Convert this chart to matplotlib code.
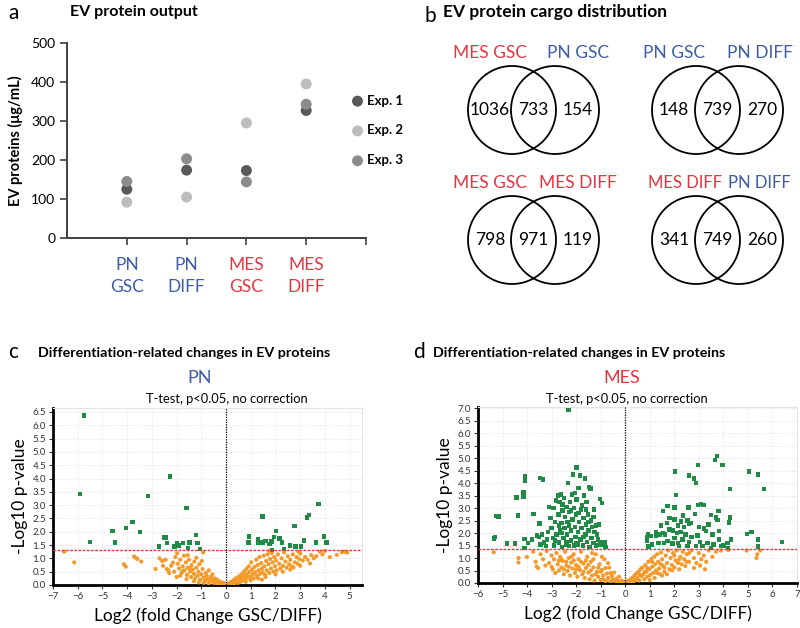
import numpy as np
import matplotlib
matplotlib.use("Agg")
import matplotlib.pyplot as plt
from matplotlib.patches import Circle

plt.rcParams['font.family'] = ['Lato', 'DejaVu Sans']

BLUE = "#3f5ca8"
RED = "#e8343f"
GREEN = "#218a47"
ORANGE = "#f39a2b"

# ── panel a data ──────────────────────────────────────────────────────────────
categories = ["PN\nGSC", "PN\nDIFF", "MES\nGSC", "MES\nDIFF"]
category_colors = [BLUE, BLUE, RED, RED]
exp_labels = ["Exp. 1", "Exp. 2", "Exp. 3"]
exp_colors = ["#595959", "#bdbdbd", "#8c8c8c"]
exp1 = [125, 174, 173, 327]
exp2 = [92, 105, 295, 395]
exp3 = [145, 203, 144, 343]

# ── panel b data ──────────────────────────────────────────────────────────────
venn_names = [("MES GSC", "PN GSC"), ("PN GSC", "PN DIFF"),
              ("MES GSC", "MES DIFF"), ("MES DIFF", "PN DIFF")]
venn_name_colors = [(RED, BLUE), (BLUE, BLUE), (RED, RED), (RED, BLUE)]
venn_counts = [(1036, 733, 154), (148, 739, 270), (798, 971, 119), (341, 749, 260)]

# ── panel c data (PN volcano) ────────────────────────────────────────────────
pn_sig = [(-5.74, 6.37), (-5.91, 3.41), (-5.50, 1.62), (-4.60, 2.03), (-4.49, 1.60),
          (-4.05, 2.14), (-3.79, 2.37), (-3.48, 2.00), (-3.16, 3.35), (-2.72, 1.44),
          (-2.51, 1.78), (-2.42, 1.78), (-2.39, 1.57), (-2.27, 4.07), (-2.08, 1.44),
          (-1.98, 1.57), (-1.91, 1.48), (-1.73, 1.57), (-1.60, 2.89), (-1.55, 1.38),
          (-1.48, 1.60), (-1.22, 1.88), (-1.16, 1.57), (-1.05, 1.35),
          (0.94, 1.82), (0.91, 1.60), (1.29, 1.73), (1.32, 1.60), (1.48, 1.60),
          (1.59, 1.65), (1.48, 2.57), (1.76, 1.54), (1.84, 1.64), (1.95, 1.80),
          (2.03, 2.04), (2.16, 1.75), (2.26, 1.60), (2.35, 1.35), (2.59, 1.48),
          (2.77, 2.22), (2.81, 1.44), (3.04, 1.44), (3.16, 1.67), (3.27, 2.54),
          (3.36, 2.63), (3.64, 1.60), (3.74, 3.05), (3.97, 1.82), (4.07, 1.60),
          (1.85, 1.32)]
pn_ns = [(-6.55, 1.25), (-6.14, 0.85), (-4.13, 0.78), (-4.06, 0.69), (-3.72, 1.07),
         (-3.65, 1.02), (-3.59, 0.98), (-3.43, 0.88), (-2.85, 0.60), (-2.69, 1.00),
         (-2.58, 0.90), (-2.45, 0.95), (-2.34, 0.56), (-2.22, 0.72), (-2.15, 0.84),
         (-2.05, 1.05), (-1.98, 1.19), (-1.95, 0.80), (-1.90, 0.62), (-1.85, 0.95),
         (-1.80, 0.45), (-1.75, 0.70), (-1.70, 1.10), (-1.68, 0.55), (-1.62, 0.85),
         (-1.58, 0.38), (-1.55, 0.65), (-1.50, 0.95), (-1.46, 0.50), (-1.42, 0.30),
         (-1.40, 0.75), (-1.35, 0.58), (-1.30, 0.42), (-1.28, 0.88), (-1.25, 0.25),
         (-1.20, 0.65), (-1.15, 0.35), (-1.12, 0.50), (-1.08, 0.78), (-1.05, 0.20),
         (-1.00, 0.40), (-0.95, 0.60), (-0.92, 1.22), (-0.90, 0.28), (-0.85, 0.15),
         (-0.82, 0.45), (-0.78, 0.35), (-0.75, 0.22), (-0.70, 0.55), (-0.66, 0.12),
         (-0.62, 0.30), (-0.58, 0.18), (-0.55, 0.40), (-0.50, 0.08), (-0.46, 0.25),
         (-0.42, 0.14), (-0.38, 0.05), (-0.35, 0.20), (-0.30, 0.10), (-0.26, 0.03),
         (-0.22, 0.12), (-0.18, 0.06), (-0.14, 0.02), (-0.10, 0.08), (-0.06, 0.03),
         (-0.03, 0.01), (-1.60, 0.22), (-1.85, 0.35), (-2.10, 0.50), (-2.40, 0.60),
         (-2.00, 0.30), (-1.30, 0.15), (-1.10, 0.10), (-0.90, 0.08), (-0.70, 0.05),
         (-0.60, 0.25), (-1.45, 0.62), (-1.75, 0.52), (-2.30, 0.45), (-2.55, 0.72),
         (-1.20, 1.02), (-0.98, 0.90), (-1.55, 1.12),
         (0.03, 0.02), (0.07, 0.05), (0.11, 0.01), (0.15, 0.08), (0.18, 0.03),
         (0.22, 0.12), (0.26, 0.06), (0.30, 0.18), (0.33, 0.04), (0.37, 0.10),
         (0.40, 0.25), (0.44, 0.15), (0.48, 0.08), (0.52, 0.32), (0.55, 0.20),
         (0.58, 0.12), (0.62, 0.40), (0.65, 0.28), (0.68, 0.18), (0.72, 0.50),
         (0.75, 0.35), (0.78, 0.22), (0.82, 0.60), (0.85, 0.42), (0.88, 0.28),
         (0.92, 0.70), (0.95, 0.50), (0.98, 0.32), (1.02, 0.85), (1.05, 0.58),
         (1.08, 0.40), (1.12, 0.25), (1.15, 0.68), (1.18, 0.48), (1.22, 0.95),
         (1.25, 0.35), (1.28, 0.75), (1.32, 0.55), (1.35, 1.05), (1.38, 0.42),
         (1.42, 0.82), (1.45, 0.62), (1.48, 0.48), (1.52, 1.10), (1.55, 0.70),
         (1.58, 0.38), (1.62, 0.90), (1.65, 0.55), (1.68, 1.15), (1.72, 0.78),
         (1.75, 0.45), (1.78, 0.98), (1.82, 0.62), (1.85, 1.20), (1.88, 0.85),
         (1.92, 0.50), (1.95, 1.05), (1.98, 0.70), (2.02, 0.92), (2.05, 0.55),
         (2.10, 1.15), (2.15, 0.80), (2.20, 0.62), (2.25, 1.00), (2.30, 0.72),
         (2.35, 1.22), (2.40, 0.88), (2.45, 0.65), (2.50, 1.08), (2.55, 0.78),
         (2.60, 0.95), (2.65, 0.70), (2.70, 1.15), (2.78, 0.85), (2.85, 1.05),
         (2.90, 0.80), (2.95, 0.98), (3.00, 1.18), (3.10, 0.92), (3.20, 1.05),
         (3.30, 0.95), (3.40, 0.81), (3.45, 1.12), (3.55, 1.00), (3.65, 1.08),
         (3.80, 1.25), (3.90, 1.15), (4.00, 1.28), (4.20, 1.05), (4.48, 1.13),
         (4.68, 1.23), (4.81, 1.25), (4.90, 1.22), (2.93, 1.25), (1.75, 1.28),
         (1.30, 0.25), (1.00, 0.18), (0.80, 0.12), (1.60, 0.30), (2.00, 0.40),
         (2.30, 0.50), (1.45, 0.20), (2.60, 0.58), (3.00, 0.72), (2.73, 0.66)]

# ── panel d data (MES volcano) ───────────────────────────────────────────────
mes_sig = [(-2.31, 6.93), (-1.99, 4.62), (-4.08, 4.28), (-4.08, 4.11), (-3.47, 4.20),
           (-3.36, 4.15), (-4.43, 3.42), (-4.15, 3.62), (-4.15, 3.46), (-5.27, 2.68),
           (-5.16, 2.66), (-4.38, 2.70), (-3.74, 2.77), (-5.36, 1.78), (-5.30, 1.85),
           (-4.81, 1.58), (-4.49, 1.59), (-4.11, 1.77), (-4.11, 1.41), (-3.95, 1.61),
           (-3.81, 1.74), (-3.50, 2.38), (-3.60, 1.90), (-3.52, 1.85), (-3.40, 1.95),
           (-3.45, 1.55), (-3.30, 1.62), (-3.22, 1.48), (-3.15, 2.05), (-3.10, 3.05),
           (-3.05, 2.60), (-3.00, 2.20), (-2.95, 1.80), (-2.92, 3.00), (-2.90, 1.50),
           (-2.85, 2.45), (-2.82, 3.30), (-2.80, 1.95), (-2.75, 3.50), (-2.72, 2.75),
           (-2.70, 1.62), (-2.68, 3.25), (-2.65, 2.10), (-2.62, 3.55), (-2.60, 2.40),
           (-2.58, 1.45), (-2.55, 2.90), (-2.52, 1.80), (-2.50, 3.40), (-2.48, 2.20),
           (-2.45, 2.65), (-2.42, 1.55), (-2.40, 3.05), (-2.38, 1.95), (-2.35, 2.45),
           (-2.32, 4.00), (-2.30, 1.48), (-2.28, 2.85), (-2.25, 3.25), (-2.22, 2.10),
           (-2.20, 1.70), (-2.18, 3.55), (-2.15, 2.55), (-2.12, 4.35), (-2.10, 1.50),
           (-2.08, 3.00), (-2.05, 2.25), (-2.02, 1.85), (-2.00, 2.75), (-1.98, 3.35),
           (-1.95, 1.55), (-1.92, 2.05), (-1.90, 3.80), (-1.88, 2.45), (-1.85, 4.31),
           (-1.82, 1.75), (-1.80, 2.95), (-1.78, 2.20), (-1.75, 3.10), (-1.72, 1.50),
           (-1.70, 2.60), (-1.68, 3.50), (-1.65, 4.18), (-1.62, 1.95), (-1.60, 2.35),
           (-1.58, 3.25), (-1.55, 1.65), (-1.52, 2.75), (-1.50, 2.10), (-1.48, 3.85),
           (-1.45, 1.45), (-1.42, 3.78), (-1.40, 2.50), (-1.38, 1.80), (-1.35, 2.25),
           (-1.30, 1.60), (-1.28, 2.95), (-1.25, 2.05), (-1.20, 1.50), (-1.18, 2.30),
           (-1.12, 1.75), (-1.08, 2.35), (-1.03, 3.36), (-1.00, 1.55), (-0.95, 3.20),
           (-0.92, 1.65), (-0.85, 1.62), (-0.80, 1.45), (-2.60, 2.00), (-2.30, 2.30),
           (-2.00, 1.60), (-2.40, 1.65), (-1.90, 2.80), (-2.70, 2.30), (-2.20, 2.90),
           (-1.70, 1.85), (-1.50, 2.45), (-2.85, 1.70), (-3.20, 1.75), (-2.55, 3.15),
           (-2.05, 3.60), (-1.60, 2.95), (-1.30, 2.65), (-1.15, 1.95),
           (3.73, 5.08), (3.66, 4.92), (2.04, 4.47), (2.97, 4.72), (3.96, 4.72),
           (5.04, 4.47), (5.41, 4.34), (2.61, 4.31), (2.81, 4.18), (2.88, 4.00),
           (4.26, 3.76), (5.65, 3.77), (2.07, 3.53), (2.97, 3.12), (3.08, 3.16),
           (3.19, 3.12), (1.73, 3.08), (2.00, 3.03), (2.58, 3.03), (1.53, 2.88),
           (2.84, 2.77), (3.49, 2.73), (3.80, 2.89), (3.69, 2.62), (3.76, 2.53),
           (4.26, 2.62), (4.23, 2.42), (1.80, 2.60), (2.00, 2.55), (2.27, 2.47),
           (1.46, 2.31), (2.54, 2.50), (2.61, 2.36), (2.68, 2.40), (2.40, 2.25),
           (3.22, 2.18), (3.28, 2.08), (0.92, 1.95), (1.05, 1.88), (0.89, 1.84),
           (1.26, 1.88), (1.39, 1.95), (1.53, 2.01), (1.62, 1.95), (4.95, 1.97),
           (5.15, 2.05), (6.39, 1.64), (5.41, 1.74), (5.41, 1.46), (0.95, 1.46),
           (1.59, 1.61), (1.73, 1.68), (1.93, 1.58), (2.14, 1.61), (2.34, 1.74),
           (2.20, 1.47), (2.54, 1.47), (2.88, 1.47), (3.15, 1.47), (3.49, 1.40),
           (3.90, 1.47), (4.17, 1.61), (4.31, 1.74), (3.82, 1.74), (3.55, 1.95),
           (3.82, 2.08), (1.80, 2.15), (1.95, 2.10), (2.10, 2.00), (2.45, 1.95),
           (2.70, 1.85), (2.95, 1.90), (3.05, 1.65), (1.35, 1.60), (1.10, 1.55),
           (2.00, 1.80), (2.25, 2.05), (2.60, 1.65), (3.35, 1.60), (3.60, 1.55),
           (4.00, 1.50), (4.20, 1.40), (1.70, 2.40), (2.35, 2.70), (2.15, 2.30),
           (3.00, 2.25), (3.40, 2.35), (1.25, 2.05), (0.88, 1.70)]
mes_ns = [(-5.36, 1.23), (-4.35, 1.00), (-4.35, 0.82), (-4.01, 1.04), (-3.75, 1.25),
          (-3.65, 0.85), (-3.61, 0.66), (-3.55, 0.60), (-3.45, 1.15), (-3.35, 0.95),
          (-3.25, 0.70), (-3.20, 1.28), (-3.10, 0.80), (-3.00, 1.10), (-2.95, 0.55),
          (-2.90, 0.95), (-2.85, 0.40), (-2.80, 1.20), (-2.75, 0.75), (-2.70, 0.50),
          (-2.65, 1.05), (-2.60, 0.62), (-2.55, 0.88), (-2.50, 0.35), (-2.45, 1.25),
          (-2.40, 0.70), (-2.35, 0.48), (-2.30, 1.00), (-2.25, 0.30), (-2.20, 0.82),
          (-2.15, 0.58), (-2.10, 1.15), (-2.05, 0.40), (-2.00, 0.72), (-1.95, 0.25),
          (-1.90, 0.95), (-1.85, 0.52), (-1.80, 1.25), (-1.75, 0.35), (-1.70, 0.78),
          (-1.65, 0.20), (-1.60, 0.60), (-1.55, 1.05), (-1.50, 0.42), (-1.45, 0.15),
          (-1.40, 0.85), (-1.35, 0.30), (-1.30, 0.62), (-1.25, 0.10), (-1.20, 1.15),
          (-1.15, 0.45), (-1.10, 0.25), (-1.05, 0.75), (-1.00, 0.12), (-0.95, 0.52),
          (-0.90, 0.30), (-0.85, 0.95), (-0.80, 0.08), (-0.75, 0.38), (-0.70, 0.20),
          (-0.65, 0.62), (-0.60, 0.06), (-0.55, 0.28), (-0.50, 0.15), (-0.45, 0.42),
          (-0.40, 0.04), (-0.35, 0.18), (-0.30, 0.08), (-0.25, 0.25), (-0.20, 0.03),
          (-0.15, 0.10), (-0.10, 0.02), (-0.05, 0.05), (-2.60, 0.95), (-2.20, 1.05),
          (-1.90, 0.65), (-1.60, 0.90), (-1.30, 0.95), (-1.00, 0.45), (-0.80, 0.60),
          (-1.40, 0.50), (-1.70, 0.45), (-2.00, 0.55), (-2.30, 0.65), (-2.50, 0.55),
          (-1.20, 0.35), (-0.90, 0.15), (-0.60, 0.40), (-1.10, 0.62), (-1.50, 0.72),
          (-1.80, 0.85), (-2.10, 0.90), (-2.40, 0.85), (-2.70, 0.90), (-3.00, 0.65),
          (-1.35, 1.20), (-0.95, 1.05), (-0.70, 0.80),
          (0.03, 0.02), (0.07, 0.06), (0.10, 0.01), (0.14, 0.10), (0.18, 0.04),
          (0.22, 0.15), (0.26, 0.07), (0.30, 0.22), (0.34, 0.05), (0.38, 0.30),
          (0.42, 0.12), (0.46, 0.38), (0.50, 0.20), (0.54, 0.45), (0.58, 0.10),
          (0.62, 0.55), (0.66, 0.28), (0.70, 0.62), (0.74, 0.35), (0.78, 0.15),
          (0.82, 0.72), (0.86, 0.45), (0.90, 0.25), (0.94, 0.85), (0.98, 0.55),
          (1.02, 0.32), (1.06, 0.95), (1.10, 0.65), (1.14, 0.40), (1.18, 1.05),
          (1.22, 0.75), (1.26, 0.50), (1.30, 1.15), (1.34, 0.85), (1.38, 0.58),
          (1.42, 0.35), (1.46, 1.22), (1.50, 0.95), (1.55, 0.68), (1.60, 0.45),
          (1.65, 1.10), (1.70, 0.80), (1.75, 1.30), (1.80, 0.55), (1.85, 1.00),
          (1.90, 0.72), (1.95, 1.20), (2.00, 0.62), (2.05, 0.90), (2.10, 1.30),
          (2.15, 0.80), (2.20, 0.55), (2.25, 1.05), (2.30, 0.75), (2.35, 1.25),
          (2.40, 0.95), (2.45, 0.68), (2.50, 1.15), (2.60, 0.85), (2.70, 1.30),
          (2.80, 1.00), (2.90, 0.80), (3.00, 1.20), (3.10, 0.95), (3.20, 1.10),
          (3.30, 0.85), (3.40, 1.30), (3.55, 1.05), (3.70, 1.25), (3.90, 1.30),
          (4.20, 1.32), (4.95, 1.30), (5.35, 1.00), (5.38, 1.15), (5.50, 1.30),
          (1.20, 0.20), (1.50, 0.30), (1.00, 0.12), (0.80, 0.45), (1.30, 0.40),
          (1.60, 0.62), (1.90, 0.50), (2.20, 0.95), (2.50, 0.85), (2.80, 0.60),
          (3.05, 0.70), (1.10, 0.85), (1.45, 0.75), (0.60, 0.32), (0.90, 0.60),
          (1.70, 0.35), (2.00, 1.10), (2.60, 1.20), (3.25, 0.55)]

W, H = 800, 628


def box(l, t, r, b):
    """Pixel box (left, top, right, bottom) -> figure fraction rect."""
    return [l / W, 1 - b / H, (r - l) / W, (b - t) / H]


def ftext(x, y, s, **kw):
    fig.text(x / W, 1 - y / H, s, **kw)


def volcano(ax, sig, ns, xlim, ylim, ymax_tick, thr):
    sig = np.array(sig).T
    ns = np.array(ns).T
    ax.scatter(ns[0], ns[1], s=9, color=ORANGE, edgecolors="none", zorder=3)
    ax.scatter(sig[0], sig[1], s=10, marker="s", color=GREEN, edgecolors="none", zorder=3)
    ax.axhline(thr, color=RED, lw=1.0, ls=(0, (2, 1)), zorder=4)
    ax.axvline(0, color="black", lw=0.9, ls=(0, (1, 1)), zorder=4)
    ax.set_xlim(*xlim)
    ax.set_ylim(*ylim)
    ax.set_xticks(np.arange(xlim[0], np.floor(xlim[1]) + 1))
    yt = np.arange(0, ymax_tick + 0.01, 0.5)
    ax.set_yticks(yt)
    ax.set_yticklabels([f"{v:.1f}" for v in yt])
    ax.grid(color="#dcdcdc", lw=0.6, ls=":")
    ax.set_axisbelow(True)
    for s in ("left", "bottom"):
        ax.spines[s].set_linewidth(2)
        ax.spines[s].set_color("black")
    for s in ("top", "right"):
        ax.spines[s].set_linewidth(0.8)
        ax.spines[s].set_color("#e3e3e3")
    ax.tick_params(labelsize=7, length=3, width=0.8, colors="#333333", pad=2)
    ax.set_xlabel("Log2 (fold Change GSC/DIFF)", fontsize=12.5, labelpad=5)
    ax.set_ylabel("-Log10 p-value", fontsize=12.5, labelpad=3)


fig = plt.figure(figsize=(8, 6.28), dpi=100)

# ── a ─────────────────────────────────────────────────────────────────────────
ax_a = fig.add_axes(box(67, 43, 366, 238))
xpos = np.arange(1, len(categories) + 1)
for vals, col, lab in zip([exp1, exp2, exp3], exp_colors, exp_labels):
    ax_a.scatter(xpos, vals, s=62, color=col, edgecolors="none", label=lab, zorder=3)
ax_a.set_xlim(0, 5)
ax_a.set_ylim(0, 500)
ax_a.set_yticks(np.arange(0, 501, 100))
ax_a.set_xticks(xpos)
ax_a.set_xticks([5], minor=True)
ax_a.set_xticklabels(categories, fontsize=12.5, linespacing=1.45)
for t, c in zip(ax_a.get_xticklabels(), category_colors):
    t.set_color(c)
ax_a.tick_params(axis="x", which="both", length=5, width=1.2, color="#404040", pad=9)
ax_a.tick_params(axis="y", length=5, width=1.2, color="#404040", labelsize=10)
for s in ("top", "right"):
    ax_a.spines[s].set_visible(False)
for s in ("left", "bottom"):
    ax_a.spines[s].set_linewidth(1.4)
    ax_a.spines[s].set_color("#404040")
ax_a.set_ylabel("EV proteins (μg/mL)", fontsize=10.5, fontweight="bold", labelpad=6)
fig.legend(loc="upper left", bbox_to_anchor=(343 / W, 1 - 88 / H), frameon=False,
           handletextpad=0.1, labelspacing=1.35, handlelength=1.2,
           prop={"weight": "bold", "size": 9.5}, borderpad=0)
ftext(8, 13, "a", fontsize=15, va="center")
ftext(70, 12, "EV protein output", fontsize=11.5, fontweight="bold", va="center")

# ── b ─────────────────────────────────────────────────────────────────────────
ax_b = fig.add_axes(box(400, 0, 800, 314))
ax_b.set_xlim(400, 800)
ax_b.set_ylim(314, 0)
ax_b.axis("off")
centers = [(512, 110), (696, 110), (512, 240), (696, 240)]
# left/right name anchors relative to the two circle centres, and font size
name_pos = [((-22, "center"), (23, "center"), 12.5),
            ((-22, "center"), (21, "center"), 12.5),
            ((-22, "center"), (23, "center"), 12.5),
            ((26, "right"), (-11, "left"), 12)]
for (cx, cy), names, ncols, counts, (nl, nr, fs) in zip(centers, venn_names, venn_name_colors,
                                                      venn_counts, name_pos):
    for xc in (cx, cx + 43):
        ax_b.add_patch(Circle((xc, cy), 44, fill=False, lw=1.3, ec="black"))
    ax_b.text(cx - 22, cy, str(counts[0]), fontsize=12.5, ha="center", va="center")
    ax_b.text(cx + 21.5, cy, str(counts[1]), fontsize=12.5, ha="center", va="center")
    ax_b.text(cx + 66, cy, str(counts[2]), fontsize=12.5, ha="center", va="center")
    ax_b.text(cx + nl[0], cy - 57, names[0], fontsize=fs, color=ncols[0], ha=nl[1], va="center")
    ax_b.text(cx + 43 + nr[0], cy - 57, names[1], fontsize=fs, color=ncols[1], ha=nr[1], va="center")
ftext(425, 16, "b", fontsize=15, va="center")
ftext(443, 12, "EV protein cargo distribution", fontsize=12.5, fontweight="bold", va="center")

# ── c ─────────────────────────────────────────────────────────────────────────
ax_c = fig.add_axes(box(53, 408, 362, 585))
volcano(ax_c, pn_sig, pn_ns, (-7, 5.5), (0, 6.65), 6.5, 1.3)
ftext(8, 352, "c", fontsize=15, va="center")
ftext(38, 353, "Differentiation-related changes in EV proteins", fontsize=10.3,
      fontweight="bold", va="center")
ftext(200, 378, "PN", fontsize=13, color=BLUE, ha="center", va="center")
ftext(227, 399, "T-test, p<0.05, no correction", fontsize=9.3, ha="center", va="center")

# ── d ─────────────────────────────────────────────────────────────────────────
ax_d = fig.add_axes(box(478, 407, 797, 583))
volcano(ax_d, mes_sig, mes_ns, (-6, 7), (0, 7.05), 7.0, 1.38)
ftext(413, 352, "d", fontsize=15, va="center")
ftext(433, 353, "Differentiation-related changes in EV proteins", fontsize=10.3,
      fontweight="bold", va="center")
ftext(622, 378, "MES", fontsize=13, color=RED, ha="center", va="center")
ftext(627, 399, "T-test, p<0.05, no correction", fontsize=9.3, ha="center", va="center")

fig.savefig("out.png", dpi=100)
